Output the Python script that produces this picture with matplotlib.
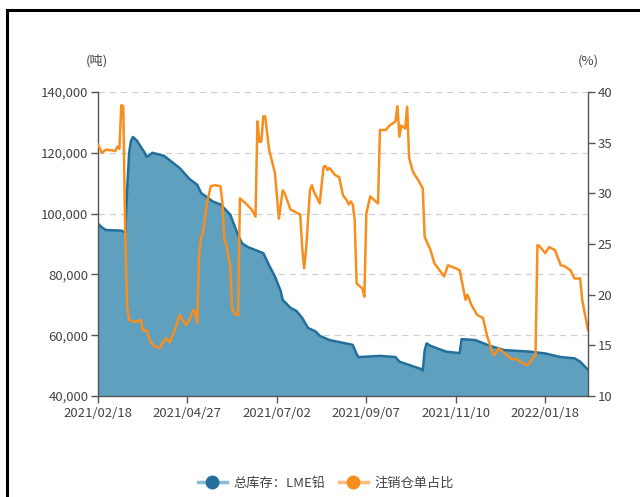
import matplotlib
matplotlib.use("Agg")
import matplotlib.pyplot as plt
from matplotlib.lines import Line2D
from matplotlib.ticker import FuncFormatter, MultipleLocator

plt.rcParams['font.family'] = ['Noto Sans CJK SC', 'DejaVu Sans']

# ---- data (x = trading-day index from 2021/02/18) ----
tick_labels = ["2021/02/18", "2021/04/27", "2021/07/02", "2021/09/07", "2021/11/10", "2022/01/18"]
tick_step = 46
n_days = 252

stock_day = [0, 2, 4, 12, 14, 15, 16, 17, 18, 20, 22, 24, 25, 26, 28, 31, 34, 38, 42, 47,
             51, 53, 59, 63, 68, 72, 74, 77, 81, 85, 88, 91, 94, 95, 99, 102, 105, 108, 112, 114,
             119, 129, 131, 133, 134, 145, 153, 155, 166, 167, 168, 169, 171, 179, 186, 187, 194,
             202, 209, 222, 230, 238, 245, 248, 252]
stock_val = [96700, 95500, 94600, 94400, 93800, 108000, 120000, 124000, 125200, 124000,
             122000, 120000, 118700, 119000, 120000, 119500, 119000, 117000, 115000, 111400,
             109500, 106800, 104000, 103000, 99700, 93000, 90300, 89000, 88000, 87000,
             83000, 79300, 74500, 71600, 69000, 68000, 65700, 62400, 61200, 59800,
             58400, 57100, 56800, 53800, 52800, 53200, 52800, 51300, 48900, 48300,
             55000, 57300, 56500, 54600, 54100, 58700, 58400, 56400, 55100, 54600,
             54000, 52800, 52400, 51300, 48600]

ratio_day = [0, 2, 4, 9, 10, 11, 12, 13, 14, 15, 16, 19, 22, 23, 25, 27, 29, 32, 33, 35,
             37, 40, 42, 45, 47, 49, 50, 51, 52, 53, 54, 56, 58, 60, 63, 64, 65, 66, 67, 68,
             69, 71, 72, 73, 76, 79, 81, 82, 83, 84, 85, 86, 88, 91, 93, 95, 96, 99, 101, 104,
             105, 106, 107, 109, 110, 111, 114, 116, 117, 118, 119, 122, 124, 126, 128, 129, 130, 131, 132, 133,
             136, 137, 138, 140, 142, 144, 145, 148, 150, 153, 154, 155, 156, 158, 159, 160, 162, 165, 167, 168,
             171, 173, 178, 180, 184, 186, 189, 190, 192, 195, 198, 200, 203, 204, 206, 208, 211, 213, 215, 217,
             220, 221, 223, 225, 226, 227, 230, 232, 235, 238, 240, 243, 245, 248, 249, 252]
ratio_val = [34.8, 34.0, 34.3, 34.2, 34.6, 34.4, 38.7, 38.6, 26.0, 18.8, 17.5, 17.3, 17.5, 16.5, 16.5, 15.4, 14.9, 14.75, 15.2, 15.7,
             15.3, 16.8, 18.0, 17.0, 17.5, 18.5, 18.3, 17.2, 24.1, 25.7, 26.1, 29.0, 30.7, 30.8, 30.7, 29.0, 25.4, 24.9, 23.75, 22.8,
             18.5, 18.0, 18.0, 29.5, 29.0, 28.4, 27.7, 37.1, 35.1, 35.1, 37.6, 37.6, 34.3, 32.0, 27.5, 30.3, 30.0, 28.4, 28.2, 27.9,
             24.7, 22.6, 24.4, 30.3, 30.8, 30.2, 29.0, 32.6, 32.7, 32.3, 32.5, 31.8, 31.6, 29.8, 29.3, 28.9, 29.2, 28.9, 27.4, 21.1,
             20.6, 19.8, 28.0, 29.7, 29.35, 29.0, 36.25, 36.25, 36.7, 37.1, 38.6, 35.6, 36.7, 36.4, 38.55, 33.5, 32.1, 31.2, 30.5, 25.7,
             24.4, 23.1, 21.8, 22.9, 22.6, 22.4, 19.5, 20.0, 19.0, 18.0, 17.7, 16.0, 14.2, 14.05, 14.7, 14.4, 13.9, 13.6, 13.7, 13.4,
             13.05, 13.1, 13.55, 14.05, 24.9, 24.8, 24.1, 24.7, 24.4, 22.9, 22.8, 22.4, 21.6, 21.6, 19.5, 16.5]

series_names = ["总库存：LME铅", "注销仓单占比"]

# ---- style ----
blue_line = "#236f9c"
blue_fill = "#60a0bf"
orange = "#f78e1e"
axis_col = "#555555"
text_col = "#444444"
fs = 9.5

fig = plt.figure(figsize=(6.4, 4.97), dpi=100)
ax = fig.add_axes([98/640, 1-396/497, 490/640, 304/497])
ax2 = ax.twinx()

ax.fill_between(stock_day, stock_val, 40000, color=blue_fill, lw=0)
ax.plot(stock_day, stock_val, color=blue_line, lw=1.8)
ax2.plot(ratio_day, ratio_val, color=orange, lw=1.8)

ax.set_xlim(0, n_days)
ax.set_ylim(40000, 140000)
ax2.set_ylim(10, 40)
ax.yaxis.set_major_locator(MultipleLocator(20000))
ax.yaxis.set_major_formatter(FuncFormatter(lambda v, p: f"{int(v):,}"))
ax2.yaxis.set_major_locator(MultipleLocator(5))
ax.set_xticks([i*tick_step for i in range(len(tick_labels))])
ax.set_xticklabels(tick_labels)

ax.grid(axis='y', color='#d0d0d0', ls=(0, (5, 4)), lw=0.9)
ax.set_axisbelow(True)

for a in (ax, ax2):
    a.spines['top'].set_visible(False)
    for s in ('left', 'right', 'bottom'):
        a.spines[s].set_color(axis_col)
        a.spines[s].set_linewidth(1.0)
    a.tick_params(colors=axis_col, labelcolor=text_col, labelsize=fs, length=5, width=1.0)
ax.spines['right'].set_visible(False)
ax2.spines['left'].set_visible(False)
ax2.spines['bottom'].set_visible(False)
ax.tick_params(axis='y', pad=2)
ax2.tick_params(axis='y', pad=2)
ax.tick_params(axis='x', pad=3)

fig.text(97/640, 1-61/497, "(吨)", ha='center', va='center', fontsize=fs, color=text_col)
fig.text(588/640, 1-61/497, "(%)", ha='center', va='center', fontsize=fs, color=text_col)

handles = [
    Line2D([], [], color="#8cbbd6", lw=2.5, marker='o', markersize=9,
           markerfacecolor=blue_line, markeredgecolor=blue_line),
    Line2D([], [], color="#fbbe80", lw=2.5, marker='o', markersize=9,
           markerfacecolor=orange, markeredgecolor=orange),
]
fig.legend(handles, series_names, loc='center', bbox_to_anchor=(326/640, 1-483/497),
           ncol=2, frameon=False, fontsize=fs, handlelength=2.2, handletextpad=0.5,
           columnspacing=1.0, labelcolor=text_col)

# page border
fig.add_artist(Line2D([7/640, 7/640], [0, 1-10/497], color='black', lw=2.2, transform=fig.transFigure))
fig.add_artist(Line2D([7/640, 1], [1-10/497, 1-10/497], color='black', lw=2.2, transform=fig.transFigure))

fig.savefig("out.png", dpi=100)
